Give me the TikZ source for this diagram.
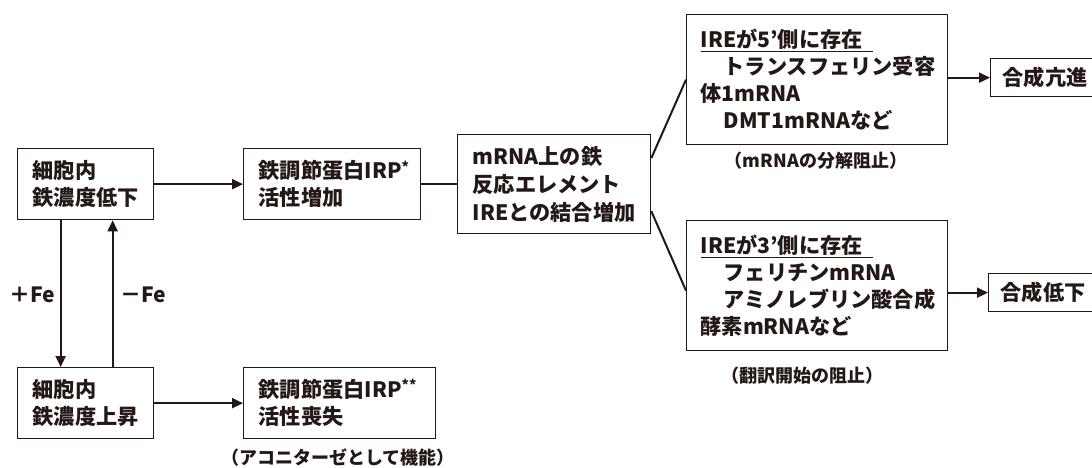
\documentclass[tikz,border=0pt]{standalone}
\usepackage{fontspec}
\setmainfont{Noto Sans CJK JP}
\usetikzlibrary{arrows.meta,calc}
\definecolor{ink}{HTML}{231815}
\newcommand{\astx}[1]{\raisebox{0.32em}{\fontsize{14}{14}\selectfont #1}}
\begin{document}
\begin{tikzpicture}[x=1pt,y=-1pt,
  box/.style={draw=ink, line width=1.3pt, inner xsep=15pt, inner ysep=0pt,
    align=left, anchor=north west, text=ink,
    font=\bfseries\fontsize{21.2}{27}\selectfont},
  arr/.style={draw=ink, line width=2pt, -{Triangle[length=11pt,width=10pt]}},
  link/.style={draw=ink, line width=2pt},
  note/.style={text=ink, font=\bfseries\fontsize{18}{20}\selectfont},
  lab/.style={text=ink, font=\bfseries\fontsize{21}{24}\selectfont}]
\clip (0,0) rectangle (1092,468);
\fill[white] (0,0) rectangle (1092,468);

\node[box, text width=106pt, minimum height=71pt] (A) at (17,148) {細胞内\\鉄濃度低下};
\node[box, text width=147pt, minimum height=71pt] (B) at (243,148) {鉄調節蛋白IRP\astx{*}\\活性増加};
\node[box, text width=163pt, minimum height=99pt, font=\bfseries\fontsize{21.2}{28}\selectfont] (C) at (457,134) {mRNA上の鉄\\反応エレメント\\IREとの結合増加};
\node[box, inner xsep=14pt, text width=233pt, minimum height=130pt] (D) at (686,14)
  {\underline{IREが5’側に存在\hspace*{0.5em}}\\\hspace*{23pt}トランスフェリン受容\\体1mRNA\\\hspace*{23pt}DMT1mRNAなど};
\node[box, inner xsep=14pt, text width=233pt, minimum height=130pt] (E) at (686,220)
  {\underline{IREが3’側に存在\hspace*{0.5em}}\\\hspace*{23pt}フェリチンmRNA\\\hspace*{23pt}アミノレブリン酸合成\\酵素mRNAなど};
\node[box, text width=106pt, minimum height=71pt] (F) at (17,367) {細胞内\\鉄濃度上昇};
\node[box, text width=162pt, minimum height=71pt] (G) at (243,367) {鉄調節蛋白IRP\astx{**}\\活性喪失};
\node[box, inner xsep=12pt, text width=100pt, minimum height=38pt] (S1) at (990,58) {合成亢進};
\node[box, inner xsep=12pt, text width=100pt, minimum height=38pt] (S2) at (988,273) {合成低下};

\node[note] (n1) at (338,458) {（アコニターゼとして機能）};
\node[note] (n2) at (816,161) {（mRNAの分解阻止）};
\node[note] (n3) at (802,376) {（翻訳開始の阻止）};

\draw[arr] (A) -- (B);
\draw[arr] (F) -- (G);
\draw[link] (B) -- (C);
\draw[link] ([yshift=26pt]C.east) -- (D.west);
\draw[link] ([yshift=-27pt]C.east) -- ([yshift=-5pt]E.west);
\draw[arr] (S1.west -| D.east) -- (S1.west);
\draw[arr] (S2.west -| E.east) -- (S2.west);
\draw[arr] ([xshift=-25pt]A.south) -- ([xshift=-25pt]F.north);
\draw[arr] ([xshift=27pt]F.north) -- ([xshift=27pt]A.south);
\node[lab] (pFe) at (32,295) {＋Fe};
\node[lab] (mFe) at (143,295) {－Fe};
\end{tikzpicture}
\end{document}
